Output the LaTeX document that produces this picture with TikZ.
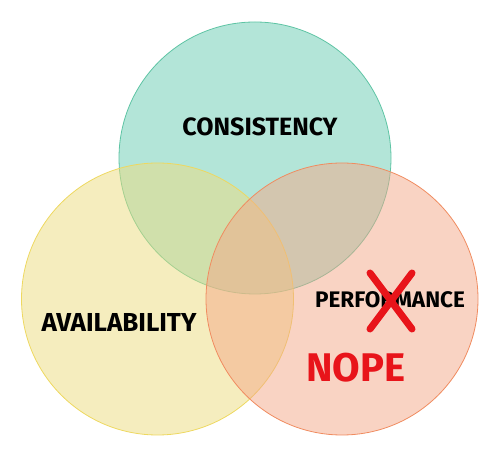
\documentclass[tikz,border=0pt]{standalone}
\usepackage{fontspec}
\setmainfont{Fira Sans}
\usepackage{tikz}

\definecolor{cteal}{HTML}{68CBB1}
\definecolor{cyellow}{HTML}{ECDC7E}
\definecolor{csalmon}{HTML}{F3A788}
\definecolor{lteal}{HTML}{5EC4A4}
\definecolor{lyellow}{HTML}{EED860}
\definecolor{lsalmon}{HTML}{F08C60}
\definecolor{nopered}{HTML}{E8141A}

\tikzset{
  setcircle/.style={circle, minimum size=272pt, inner sep=0pt, line width=0.8pt, fill opacity=0.5},
  setlabel/.style={font=\bfseries\fontsize{25}{27}\selectfont, text=black},
}

\begin{document}
\begin{tikzpicture}[x=1pt,y=1pt]
	\useasboundingbox (0,0) rectangle (500,457);
	\node[setcircle, draw=lteal, fill=cteal] (cons) at (255,299) {};
	\node[setcircle, draw=lyellow, fill=cyellow] (avail) at (157.5,158) {};
	\node[setcircle, draw=lsalmon, fill=csalmon] (perf) at (342,158) {};
	\node[setlabel] (tcons) at (260,330) {CONSISTENCY};
	\node[setlabel, font=\bfseries\fontsize{26}{28}\selectfont] (tavail) at (119,135) {AVAILABILITY};
	\node[setlabel, font=\bfseries\fontsize{22.5}{24}\selectfont] (tperf) at (390,157) {PERFORMANCE};
	% the cross over the word
	\coordinate (xa) at (370,184);
	\coordinate (xb) at (412,128);
	\coordinate (xc) at (370,128);
	\coordinate (xd) at (412,184);
	\draw[nopered, line width=7pt, line cap=round] (xa) -- (xb);
	\draw[nopered, line width=7pt, line cap=round] (xc) -- (xd);
	\node[text=nopered, font=\bfseries\fontsize{40}{42}\selectfont] (nope) at (356,89) {NOPE};
\end{tikzpicture}
\end{document}
